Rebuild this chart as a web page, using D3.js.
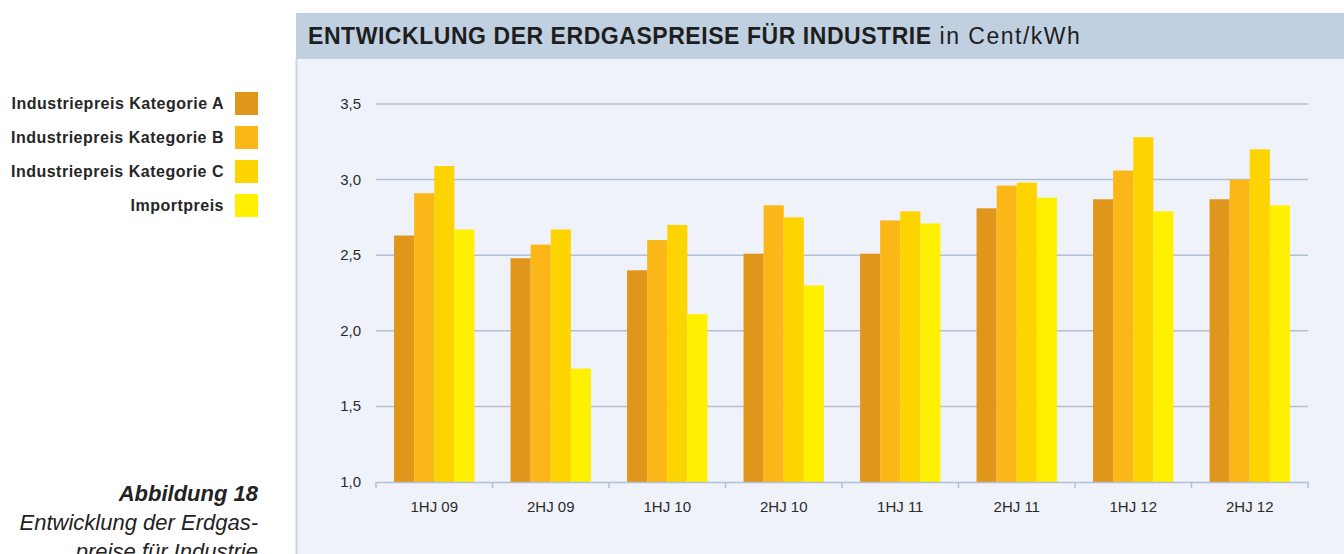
<!DOCTYPE html>
<html>
<head>
<meta charset="utf-8">
<script src="https://cdn.jsdelivr.net/npm/d3@7"></script>
<style>
  body { margin: 0; background: #fff; }
  svg { display: block; }
</style>
</head>
<body>
<script>
// data
const periods = ["1HJ 09", "2HJ 09", "1HJ 10", "2HJ 10", "1HJ 11", "2HJ 11", "1HJ 12", "2HJ 12"];
const seriesNames = ["Industriepreis Kategorie A", "Industriepreis Kategorie B", "Industriepreis Kategorie C", "Importpreis"];
const katA = [2.63, 2.48, 2.40, 2.51, 2.51, 2.81, 2.87, 2.87];
const katB = [2.91, 2.57, 2.60, 2.83, 2.73, 2.96, 3.06, 3.00];
const katC = [3.09, 2.67, 2.70, 2.75, 2.79, 2.98, 3.28, 3.20];
const importpreis = [2.67, 1.75, 2.11, 2.30, 2.71, 2.88, 2.79, 2.83];
const yTicks = [1.0, 1.5, 2.0, 2.5, 3.0, 3.5];

const colors = ["#e0961a", "#fbb718", "#fdd300", "#fff000"];
const allSeries = [katA, katB, katC, importpreis];

const width = 1344, height = 554;
const font = "'Liberation Sans', Arial, sans-serif";

const svg = d3.select("body").append("svg")
    .attr("width", width)
    .attr("height", height);

// panel
svg.append("rect").attr("x", 296).attr("y", 13).attr("width", width - 296).attr("height", height)
    .attr("fill", "#eff3f9");
svg.append("rect").attr("x", 296).attr("y", 13).attr("width", width - 296).attr("height", 46)
    .attr("fill", "#c0d0e1");
svg.append("line").attr("x1", 296.5).attr("x2", 296.5).attr("y1", 59).attr("y2", height)
    .attr("stroke", "#c8d6ea").attr("stroke-width", 2);

// title
const title = svg.append("text").attr("x", 308).attr("y", 44)
    .attr("font-family", font).attr("font-size", 23).attr("fill", "#1e1e1e");
title.append("tspan").attr("font-weight", "bold").attr("letter-spacing", 0.55)
    .text("ENTWICKLUNG DER ERDGASPREISE FÜR INDUSTRIE");
title.append("tspan").attr("font-weight", "normal").attr("letter-spacing", 1.5).text(" in Cent/kWh");

// scales
const x0 = d3.scaleBand().domain(periods).range([376, 1308]).paddingInner(0.31).paddingOuter(0.155);
const x1 = d3.scaleBand().domain(d3.range(4)).range([0, x0.bandwidth()]);
const y = d3.scaleLinear().domain([1.0, 3.5]).range([482, 104]);

// grid
svg.append("g").selectAll("line")
    .data(yTicks.slice(1))
    .join("line")
    .attr("x1", 376).attr("x2", 1308)
    .attr("y1", d => y(d)).attr("y2", d => y(d))
    .attr("stroke", "#b3bfd6").attr("stroke-width", 1.5);

// y labels
svg.append("g").selectAll("text")
    .data(yTicks)
    .join("text")
    .attr("x", 361).attr("y", d => y(d) + 5)
    .attr("text-anchor", "end")
    .attr("font-family", font).attr("font-size", 15).attr("fill", "#2a2a2a")
    .text(d => d3.format(".1f")(d).replace(".", ","));

// bars
const groups = svg.append("g").selectAll("g")
    .data(periods)
    .join("g")
    .attr("transform", d => `translate(${x0(d)},0)`);

groups.selectAll("rect")
    .data((d, i) => allSeries.map((s, k) => ({ k, v: s[i] })))
    .join("rect")
    .attr("x", d => x1(d.k))
    .attr("width", x1.bandwidth())
    .attr("y", d => y(d.v))
    .attr("height", d => y(1.0) - y(d.v))
    .attr("fill", d => colors[d.k]);

// x axis
const xAxis = svg.append("g").attr("transform", "translate(0,482)")
    .call(d3.axisBottom(x0).tickSize(0).tickPadding(19));
xAxis.select(".domain").attr("stroke", "#b3bfd6").attr("stroke-width", 1.5);
xAxis.selectAll("text").attr("font-family", font).attr("font-size", 15).attr("fill", "#2a2a2a");

const step = x0.step();
svg.append("g").selectAll("line")
    .data(d3.range(periods.length + 1))
    .join("line")
    .attr("x1", d => 376 + d * step).attr("x2", d => 376 + d * step)
    .attr("y1", 482).attr("y2", 488)
    .attr("stroke", "#b3bfd6").attr("stroke-width", 1.5);

// legend
const legend = svg.append("g").selectAll("g")
    .data(seriesNames)
    .join("g")
    .attr("transform", (d, i) => `translate(0,${103 + i * 34})`);
legend.append("rect").attr("x", 235).attr("y", -11).attr("width", 23).attr("height", 23)
    .attr("fill", (d, i) => colors[i]);
legend.append("text").attr("x", 224).attr("y", 5.5)
    .attr("text-anchor", "end")
    .attr("font-family", font).attr("font-size", 16).attr("font-weight", "bold")
    .attr("letter-spacing", 0.5).attr("fill", "#262626")
    .text(d => d);

// caption
const cap = svg.append("text").attr("text-anchor", "end")
    .attr("font-family", font).attr("font-style", "italic").attr("font-size", 22).attr("fill", "#222");
cap.append("tspan").attr("x", 258).attr("y", 501).attr("font-weight", "bold").text("Abbildung 18");
cap.append("tspan").attr("x", 258).attr("y", 530).text("Entwicklung der Erdgas-");
cap.append("tspan").attr("x", 258).attr("y", 559).text("preise für Industrie");
</script>
</body>
</html>
